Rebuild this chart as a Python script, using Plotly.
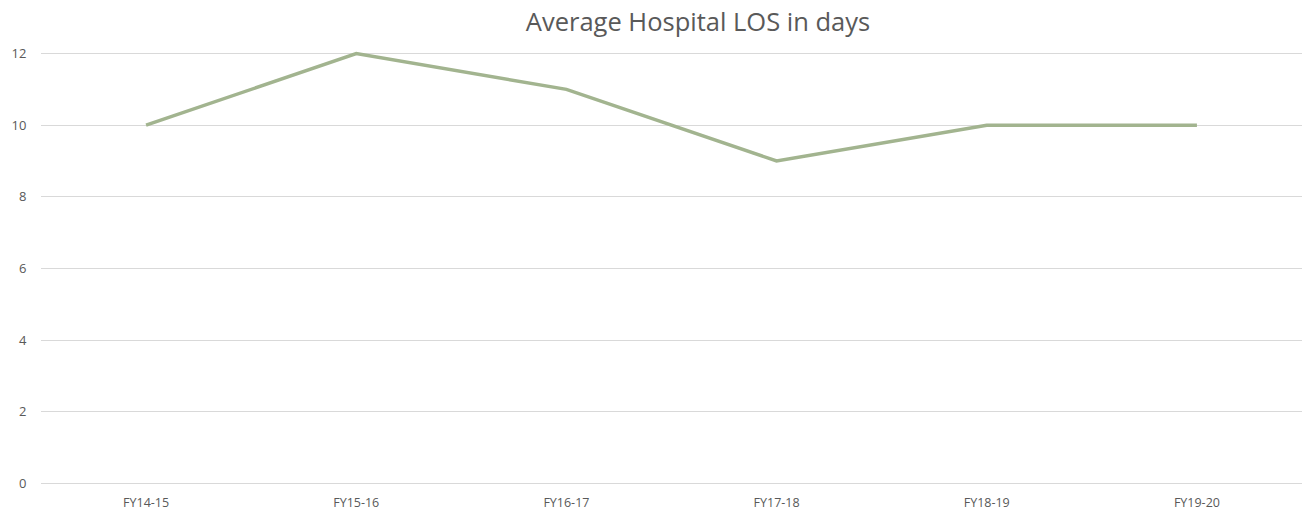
import plotly.graph_objects as go

categories = ["FY14-15", "FY15-16", "FY16-17", "FY17-18", "FY18-19", "FY19-20"]
los_days = [10, 12, 11, 9, 10, 10]
y_ticks = [0, 2, 4, 6, 8, 10, 12]

fig = go.Figure()
fig.add_trace(go.Scatter(
    x=categories, y=los_days, mode="lines",
    line=dict(color="#A2B48F", width=3.5),
    cliponaxis=False, showlegend=False,
))

fig.update_layout(
    width=1302, height=515,
    margin=dict(l=41, r=0, t=50.4, b=30.2),
    paper_bgcolor="white", plot_bgcolor="white",
    title=dict(text="Average Hospital LOS in days", x=698 / 1302, xanchor="center",
               y=1 - 22 / 515, yanchor="middle",
               font=dict(family="Open Sans, Calibri, sans-serif", size=25.5, color="#595959")),
    font=dict(family="Open Sans, Calibri, sans-serif", size=12, color="#595959"),
    xaxis=dict(range=[-0.5, 5.5], showgrid=False, showline=False, zeroline=False,
               automargin=False,
               ticks="outside", ticklen=6, tickcolor="rgba(0,0,0,0)",
               tickfont=dict(size=12.5, color="#595959")),
    yaxis=dict(range=[-0.05, 12.1], tickvals=y_ticks, showgrid=True, gridcolor="#D9D9D9",
               gridwidth=1, zeroline=True, zerolinecolor="#D9D9D9", zerolinewidth=1,
               showline=False, automargin=False,
               ticks="outside", ticklen=11, tickcolor="rgba(0,0,0,0)",
               tickfont=dict(size=13, color="#595959")),
)

fig.write_html("out.html", config={"displayModeBar": False},
               post_script="document.body.style.margin='0';")
